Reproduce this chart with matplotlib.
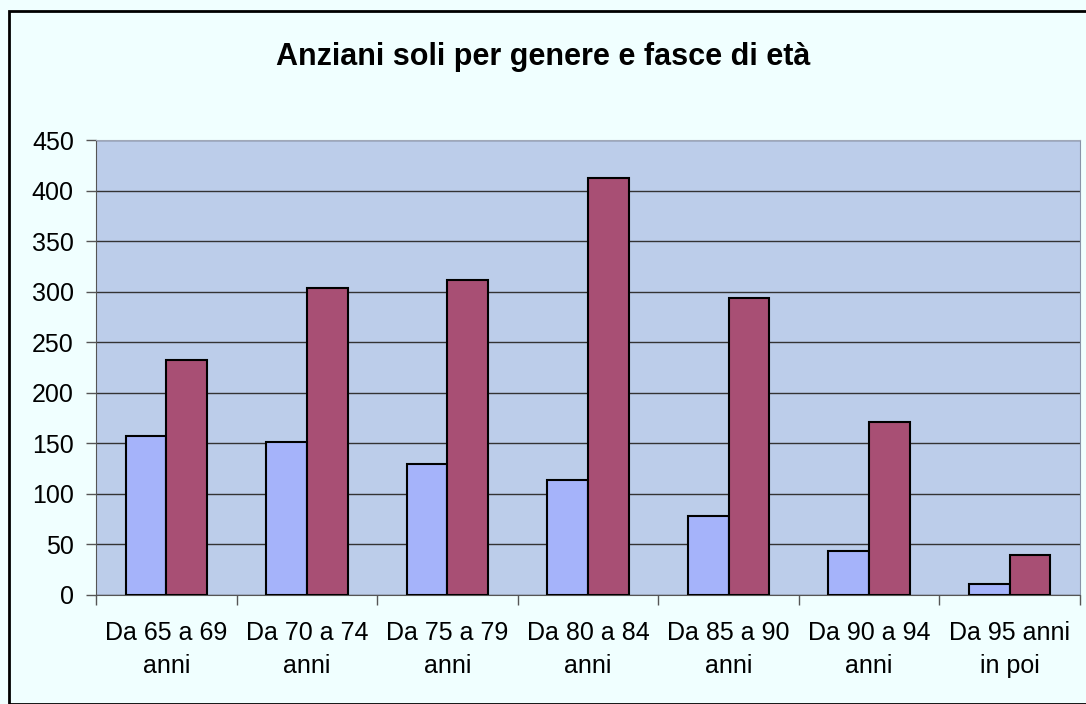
import numpy as np
import matplotlib
matplotlib.use('Agg')
import matplotlib.pyplot as plt
from matplotlib.patches import Rectangle

plt.rcParams['font.family'] = ['Liberation Sans', 'DejaVu Sans']

# ---- data ---------------------------------------------------------------
categories = ['Da 65 a 69\nanni', 'Da 70 a 74\nanni', 'Da 75 a 79\nanni',
              'Da 80 a 84\nanni', 'Da 85 a 90\nanni', 'Da 90 a 94\nanni',
              'Da 95 anni\nin poi']
maschi = [157, 151, 130, 114, 78, 44, 11]
femmine = [232, 304, 312, 412, 294, 171, 40]
yticks = [0, 50, 100, 150, 200, 250, 300, 350, 400, 450]
title = 'Anziani soli per genere e fasce di età'

BG = '#F0FFFF'
PLOT_BG = '#BCCDEA'
C_BLUE = '#A5B3FA'
C_RED = '#A84F74'

fig = plt.figure(figsize=(10.86, 7.04), dpi=100, facecolor=BG)
fig.patches.append(Rectangle((9/1086, 0), 1.0, 1 - 11/704, transform=fig.transFigure,
                             fill=False, ec='black', lw=2, zorder=0))
a = fig.add_axes([96/1086, 1 - 595/704, 984/1086, 455/704])
a.set_facecolor(PLOT_BG)

x = np.arange(len(categories))
w = 0.29
a.bar(x - w/2, maschi, w, color=C_BLUE, ec='black', lw=1.5, zorder=3)
a.bar(x + w/2, femmine, w, color=C_RED, ec='black', lw=1.5, zorder=3)

a.set_xlim(-0.5, len(categories) - 0.5)
a.set_ylim(0, 450)
a.set_yticks(yticks)
a.yaxis.grid(True, color='#333333', lw=1.0, zorder=1)
a.set_axisbelow(True)
a.tick_params(axis='y', labelsize=18, length=7, width=1, color='#555555', pad=9)

a.set_xticks(np.arange(len(categories) + 1) - 0.5)
a.set_xticklabels([])
a.set_xticks(x, minor=True)
a.set_xticklabels(categories, minor=True, fontsize=18, linespacing=1.45)
a.tick_params(axis='x', which='major', length=7, width=1, color='#555555')
a.tick_params(axis='x', which='minor', length=0, pad=19)

for sp in ['left', 'bottom']:
    a.spines[sp].set_color('#555555')
a.spines['right'].set_color('#8894A8')
a.spines['top'].set_color('#A0A8B8')

fig.text(0.5, 1 - 57/704, title, ha='center', va='center', fontsize=22, fontweight='bold')

fig.savefig('out.png', dpi=100, facecolor=BG)
